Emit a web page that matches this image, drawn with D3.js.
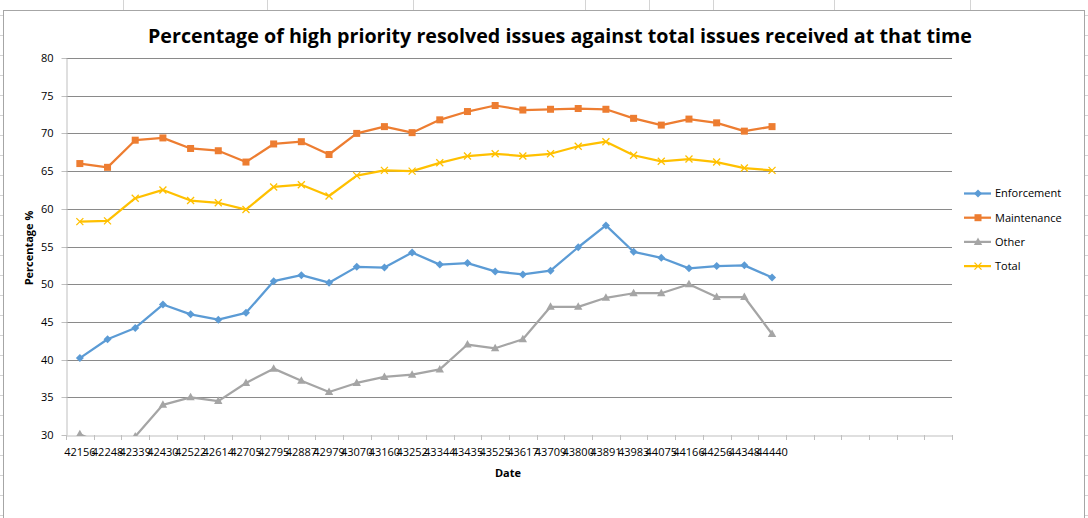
<!DOCTYPE html>
<html><head><meta charset="utf-8">
<script src="https://cdn.jsdelivr.net/npm/d3@7/dist/d3.min.js"></script>
<style>
html,body{margin:0;padding:0;background:#fff;}
svg{display:block;font-family:"Open Sans",sans-serif;}
</style></head>
<body>
<svg id="c" width="1088" height="518"></svg>
<script>
const dates = ["42156","42248","42339","42430","42522","42614","42705","42795","42887","42979","43070","43160","43252","43344","43435","43525","43617","43709","43800","43891","43983","44075","44166","44256","44348","44440"];
const emptySlots = 6;
const enforcement = [40.2,42.7,44.2,47.3,46.0,45.3,46.2,50.4,51.2,50.2,52.3,52.2,54.2,52.6,52.8,51.7,51.3,51.8,54.9,57.8,54.3,53.5,52.1,52.4,52.5,50.9];
const maintenance = [66.0,65.5,69.1,69.4,68.0,67.7,66.2,68.6,68.9,67.2,70.0,70.9,70.1,71.8,72.9,73.7,73.1,73.2,73.3,73.2,72.0,71.1,71.9,71.4,70.3,70.9];
const other = [30.1,28.5,29.8,34.0,35.0,34.5,36.9,38.8,37.2,35.7,36.9,37.7,38.0,38.7,42.0,41.5,42.7,47.0,47.0,48.2,48.8,48.8,50.0,48.3,48.3,43.4];
const total = [58.3,58.4,61.4,62.5,61.1,60.8,59.9,62.9,63.2,61.7,64.4,65.1,65.0,66.1,67.0,67.3,67.0,67.3,68.3,68.9,67.1,66.3,66.6,66.2,65.4,65.1];
const yTicks = [30,35,40,45,50,55,60,65,70,75,80];
const seriesNames = ["Enforcement","Maintenance","Other","Total"];
const seriesColors = ["#5B9BD5","#ED7D31","#A5A5A5","#FFC000"];
const seriesMarkers = ["diamond","square","triangle","x"];
const seriesData = [enforcement, maintenance, other, total];

(function(){
const svg = d3.select("#c");
// spreadsheet background
const bg = svg.append("g");
[123,267,413,585,649,713,834,970].forEach(xx=>bg.append("line").attr("x1",xx+0.5).attr("x2",xx+0.5).attr("y1",0).attr("y2",10).attr("stroke","#d4d4d4"));
for(let yy=15;yy<518;yy+=20){
  bg.append("line").attr("x1",0).attr("x2",3).attr("y1",yy+0.5).attr("y2",yy+0.5).attr("stroke","#d4d4d4");
  bg.append("line").attr("x1",1085).attr("x2",1088).attr("y1",yy+0.5).attr("y2",yy+0.5).attr("stroke","#d4d4d4");
}
svg.append("rect").attr("x",3.5).attr("y",10.5).attr("width",1081).attr("height",520).attr("fill","#fff").attr("stroke","#a6a6a6");

const pL=66, pR=952, pT=58, pB=435;
const idx = d3.range(dates.length + emptySlots);
const x = d3.scaleBand().domain(idx).range([pL,pR]);
const y = d3.scaleLinear().domain([30,80]).range([pB,pT]);

// gridlines
svg.append("g").selectAll("line").data(yTicks.slice(1)).join("line")
  .attr("x1",pL).attr("x2",pR).attr("y1",d=>Math.round(y(d))+0.5).attr("y2",d=>Math.round(y(d))+0.5)
  .attr("stroke","#8a8a8a").attr("stroke-width",1);

// y axis
const yAxis = svg.append("g").attr("transform",`translate(${pL+0.5},0)`)
  .call(d3.axisLeft(y).tickValues(yTicks).tickSize(5).tickSizeOuter(0).tickPadding(8));
yAxis.select(".domain").attr("stroke","#bfbfbf");
yAxis.selectAll(".tick line").attr("stroke","#bfbfbf");
yAxis.selectAll("text").attr("font-size",11).attr("fill","#000").attr("font-family","Open Sans");
yAxis.selectAll(".tick").attr("transform",d=>`translate(0,${Math.round(y(d))+0.5})`);

// x axis
const xAxis = svg.append("g").attr("transform",`translate(0,${pB+0.5})`)
  .call(d3.axisBottom(x).tickFormat(i=>dates[i]||"").tickSize(0).tickSizeOuter(0).tickPadding(13));
xAxis.select(".domain").attr("stroke","#bfbfbf");
xAxis.selectAll("text").attr("font-size",11).attr("fill","#000").attr("font-family","Open Sans");
xAxis.selectAll(".tick").filter(i=>!dates[i]).remove();
const bounds = idx.map(i=>x(i)).concat([pR]);
svg.append("g").selectAll("line").data(bounds).join("line")
  .attr("x1",d=>Math.round(d)+0.5).attr("x2",d=>Math.round(d)+0.5).attr("y1",pB).attr("y2",pB+5)
  .attr("stroke","#bfbfbf");

// clip
svg.append("clipPath").attr("id","plot").append("rect").attr("x",pL).attr("y",pT-6).attr("width",pR-pL).attr("height",pB-pT+7);

const cx = i => x(i)+x.bandwidth()/2;
const line = d3.line().x((d,i)=>cx(i)).y(d=>y(d));

function marker(g, type, color){
  if(type==="diamond") g.append("path").attr("d","M0,-4L4,0L0,4L-4,0Z").attr("fill",color);
  else if(type==="square") g.append("rect").attr("x",-3.5).attr("y",-3.5).attr("width",7).attr("height",7).attr("fill",color);
  else if(type==="triangle") g.append("path").attr("d","M0,-4.5L4.2,3L-4.2,3Z").attr("fill",color);
  else if(type==="x") g.append("path").attr("d","M-3.5,-3.5L3.5,3.5M-3.5,3.5L3.5,-3.5").attr("stroke",color).attr("stroke-width",1.3).attr("fill","none");
}

const plot = svg.append("g").attr("clip-path","url(#plot)");
seriesData.forEach((data,s)=>{
  plot.append("path").datum(data).attr("d",line).attr("fill","none")
    .attr("stroke",seriesColors[s]).attr("stroke-width",2.25).attr("stroke-linejoin","round");
  data.forEach((v,i)=>{
    const g = plot.append("g").attr("transform",`translate(${cx(i)},${y(v)})`);
    marker(g, seriesMarkers[s], seriesColors[s]);
  });
});

// title
svg.append("text").attr("x",560).attr("y",43).attr("text-anchor","middle")
  .attr("font-size",19).attr("font-weight","bold").attr("fill","#000")
  .attr("textLength",824).attr("lengthAdjust","spacingAndGlyphs")
  .text("Percentage of high priority resolved issues against total issues received at that time");

// axis titles
svg.append("text").attr("transform","translate(33,248) rotate(-90)").attr("text-anchor","middle")
  .attr("font-size",11).attr("font-weight","bold").attr("fill","#000").text("Percentage %");
svg.append("text").attr("x",508).attr("y",477).attr("text-anchor","middle")
  .attr("font-size",11).attr("font-weight","bold").attr("fill","#000").text("Date");

// legend
const leg = svg.append("g");
seriesNames.forEach((n,s)=>{
  const ly = 193.5 + s*24.2;
  leg.append("line").attr("x1",964).attr("x2",991).attr("y1",ly).attr("y2",ly).attr("stroke",seriesColors[s]).attr("stroke-width",2.25);
  const g = leg.append("g").attr("transform",`translate(978,${ly})`);
  marker(g, seriesMarkers[s], seriesColors[s]);
  leg.append("text").attr("x",995).attr("y",ly).attr("dy","0.35em").attr("font-size",11).attr("fill","#000").text(n);
});
})();
</script>
</body></html>
